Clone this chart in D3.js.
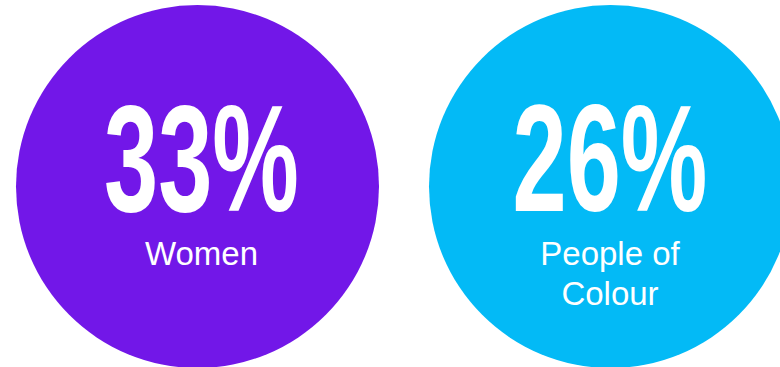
<!DOCTYPE html>
<html>
<head>
<meta charset="utf-8">
<script src="https://cdn.jsdelivr.net/npm/d3@7"></script>
<style>
  html, body { margin: 0; padding: 0; background: #ffffff; }
  svg { display: block; }
</style>
</head>
<body>
<svg id="chart" width="780" height="367"></svg>
<script>
// ---- data ----
const categories = ["Women", "People of Colour"];
const values = [33, 26];
const labelLines = [["Women"], ["People of", "Colour"]];
const colors = ["#7217e8", "#03baf6"];

// ---- layout ----
const W = 780, H = 367;
const radius = 181.5;
const cy = 186.5;
const svg = d3.select("#chart");

const x = d3.scalePoint().domain(categories).range([197.5, 610.5]);
const textShift = [4, -0.5];
const color = d3.scaleOrdinal().domain(categories).range(colors);

const g = svg.selectAll("g.item")
  .data(categories.map((c, i) => ({ c, v: values[i], lines: labelLines[i], i })))
  .join("g")
  .attr("class", "item");

g.append("circle")
  .attr("cx", d => x(d.c))
  .attr("cy", cy)
  .attr("r", radius)
  .attr("fill", d => color(d.c));

g.append("text")
  .attr("x", d => x(d.c) + textShift[d.i])
  .attr("y", 210.5)
  .attr("text-anchor", "middle")
  .attr("fill", "#ffffff")
  .style("font-family", "'Liberation Sans', Arial, sans-serif")
  .style("font-weight", "bold")
  .style("font-size", "152px")
  .attr("textLength", 195)
  .attr("lengthAdjust", "spacingAndGlyphs")
  .text(d => d.v + "%");

g.each(function(d) {
  const t = d3.select(this).append("text")
    .attr("text-anchor", "middle")
    .attr("fill", "#ffffff")
    .style("font-family", "'Liberation Sans', Arial, sans-serif")
    .style("font-size", "33px");
  d.lines.forEach((line, j) => {
    t.append("tspan")
      .attr("x", x(d.c) + textShift[d.i])
      .attr("y", 264.5 + j * 40)
      .text(line);
  });
});
</script>
</body>
</html>
